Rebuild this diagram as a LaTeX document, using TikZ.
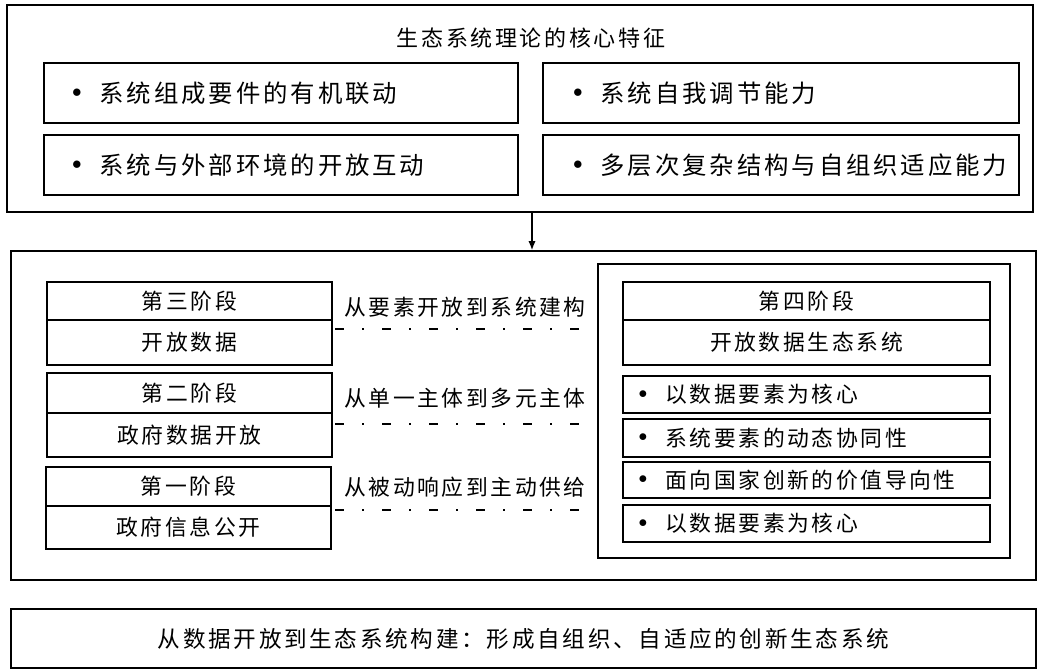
\documentclass[tikz,border=0pt]{standalone}
\usepackage{fontspec}
\setmainfont{Noto Sans CJK SC}[LetterSpace=12]
\usetikzlibrary{fit,arrows.meta}

\tikzset{
  box/.style={draw, line width=0.9pt, inner sep=0pt},
  frame/.style={draw, line width=0.8pt, inner sep=0pt},
  linkline/.style={line width=1.1pt, dash pattern=on 4.5pt off 9pt on 1pt off 9pt},
  stagefont/.style={font=\fontsize{10.9}{13}\selectfont},
  featfont/.style={font=\fontsize{12.2}{14}\selectfont},
  boxtext/.style={label={[stagefont]center:#1}},
}

\begin{document}
\begin{tikzpicture}[x=0.5pt,y=-0.5pt]
\useasboundingbox (0,0) rectangle (1038,669);
% theory features
\node[frame, fit={(7,5) (1033,212)}] (top) {};
\node[font=\fontsize{11}{13}\selectfont] (title) at (531,38) {生态系统理论的核心特征};
\node[box, fit={(44,63) (518,123)}] (f1) {};
\node[box, fit={(543,63) (1019,123)}] (f2) {};
\node[box, fit={(44,135) (518,195)}] (f3) {};
\node[box, fit={(543,135) (1019,195)}] (f4) {};
\foreach \n/\bx/\y/\txt in {f1/77/93/系统组成要件的有机联动, f2/578/93/系统自我调节能力,
    f3/77/165/系统与外部环境的开放互动, f4/578/165/多层次复杂结构与自组织适应能力}{
  \node[featfont, scale=0.8] (b\n) at (\bx,\y) {$\bullet$};
  \node[featfont, anchor=west, inner sep=0pt] (t\n) at (\bx+22,\y) {\txt};
}
% stages
\node[frame, fit={(11,251) (1036,580)}] (mid) {};
\coordinate (ar) at (532,0);
\draw[-{Latex[length=4.5pt,width=3.6pt]}, line width=0.7pt] (top.south -| ar) -- (mid.north -| ar);
\node[box, fit={(47,282) (332,320)}, boxtext=第三阶段] (s3h) {};
\node[box, fit={(47,320) (332,365)}, boxtext=开放数据] (s3b) {};
\node[box, fit={(47,373) (332,413)}, boxtext=第二阶段] (s2h) {};
\node[box, fit={(47,413) (332,457)}, boxtext=政府数据开放] (s2b) {};
\node[box, fit={(46,467) (331,506)}, boxtext=第一阶段] (s1h) {};
\node[box, fit={(46,506) (331,549)}, boxtext=政府信息公开] (s1b) {};
% stage four
\node[frame, line width=0.9pt, fit={(598,264) (1010,558)}] (eco) {};
\node[box, fit={(623,282) (990,320)}, boxtext=第四阶段] (s4h) {};
\node[box, fit={(623,320) (990,365)}, boxtext=开放数据生态系统] (s4b) {};
\foreach \n/\ya/\yb/\txt in {i1/376/413/以数据要素为核心, i2/419/457/系统要素的动态协同性,
    i3/462/498/面向国家创新的价值导向性, i4/505/542/以数据要素为核心}{
  \node[box, fit={(623,\ya) (990,\yb)}] (\n) {};
  \node[stagefont, scale=0.8] (b\n) at (643,{(\ya+\yb)/2}) {$\bullet$};
  \node[stagefont, anchor=west, inner sep=0pt] (t\n) at (665,{(\ya+\yb)/2}) {\txt};
}
% transitions
\foreach \n/\y/\ly/\txt in {3/307/329/从要素开放到系统建构, 2/398/424/从单一主体到多元主体, 1/487/510/从被动响应到主动供给}{
  \node[stagefont] (lab\n) at (465,\y) {\txt};
  \coordinate (l\n) at (335,\ly);
  \draw[linkline] (l\n) -- (l\n -| eco.west);
}
% summary
\node[frame, fit={(11,609) (1036,668)},
  label={[font=\fontsize{11.3}{13}\selectfont]center:从数据开放到生态系统构建：形成自组织、自适应的创新生态系统}] (sum) {};
\end{tikzpicture}
\end{document}
